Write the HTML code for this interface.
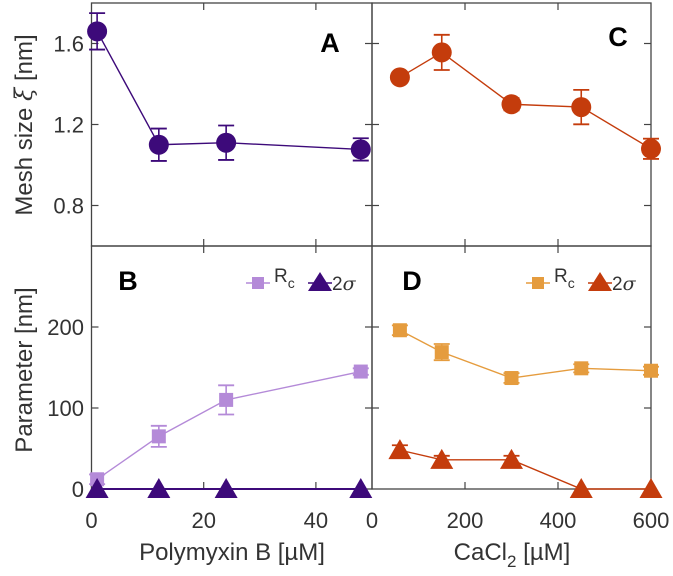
<!DOCTYPE html>
<html><head><meta charset="utf-8">
<style>html,body{margin:0;padding:0;background:#fff}svg{display:block;font-family:"Liberation Sans",sans-serif}</style>
</head><body>
<svg id="chart" width="673" height="576" viewBox="0 0 673 576" xmlns="http://www.w3.org/2000/svg"></svg>
<script>
const pbX=[1,12,24,48];
const aXi=[1.66,1.10,1.11,1.077];
const aErr=[0.09,0.08,0.085,0.055];
const bRc=[12,65,110,145];
const bRcErr=[6,13,18,4];
const bSig=[0,0,0,0];
const caX=[60,150,300,450,600];
const cXi=[1.433,1.556,1.30,1.286,1.08];
const cErr=[0,0.087,0.03,0.085,0.05];
const dRc=[196,169,137,149,146];
const dRcErr=[6,10,6,5,5];
const dSig=[48,36,36,0,0];
const dSigErr=[6,5,5,0,0];
const xTicksL=[0,20,40];
const xTicksR=[0,200,400,600];
const yTicksTop=[0.8,1.2,1.6];
const yTicksBot=[0,100,200];

const NS="http://www.w3.org/2000/svg";
const svg=document.getElementById('chart');
function el(tag,attrs,parent,text){const e=document.createElementNS(NS,tag);for(const k in attrs)e.setAttribute(k,attrs[k]);if(text!==undefined)e.textContent=text;(parent||svg).appendChild(e);return e;}
const L={x0:91.5,x1:372},R={x0:372,x1:651},T={y0:3,y1:246},B={y0:246,y1:489};
const sxL=v=>L.x0+(v-0)/(50-0)*(L.x1-L.x0);
const sxR=v=>R.x0+(v-0)/(600-0)*(R.x1-R.x0);
const syT=v=>T.y1-(v-0.6)/(1.8-0.6)*(T.y1-T.y0);
const syB=v=>B.y1-(v-0)/(300-0)*(B.y1-B.y0);

// frames
function frame(x0,x1,y0,y1,name){const r=el('rect',{x:x0,y:y0,width:x1-x0,height:y1-y0,fill:'none',stroke:'#444','stroke-width':1.3},svg);}
frame(L.x0,L.x1,T.y0,T.y1,'panel-a-frame');frame(R.x0,R.x1,T.y0,T.y1,'panel-c-frame');
frame(L.x0,L.x1,B.y0,B.y1,'panel-b-frame');frame(R.x0,R.x1,B.y0,B.y1,'panel-d-frame');

function tick(x1,y1,x2,y2){const t=el('line',{x1,y1,x2,y2,stroke:'#444','stroke-width':1.2});}
// x ticks
[[xTicksL,sxL,L],[xTicksR,sxR,R]].forEach(([ticks,sx,P])=>{
  ticks.forEach(v=>{const x=sx(v);
    if(x>P.x0+1&&x<P.x1-1){[[T.y0,1],[T.y1,-1],[B.y0,1],[B.y1,-1]].forEach(([y,d])=>tick(x,y,x,y+d*7));}
    const t=el('text',{x:x,y:528,'text-anchor':'middle','font-size':22,fill:'#333'},svg,String(v));
    
  });
});
// y ticks
yTicksTop.forEach(v=>{const y=syT(v);
  [[L.x0,1],[L.x1,-1],[R.x0,1],[R.x1,-1]].forEach(([x,d])=>tick(x,y,x+d*7,y));
  const t=el('text',{x:84,y:y+8,'text-anchor':'end','font-size':22,fill:'#333'},svg,v.toFixed(1));
  
});
yTicksBot.forEach(v=>{const y=syB(v);
  [[L.x0,1],[L.x1,-1],[R.x0,1],[R.x1,-1]].forEach(([x,d])=>{if(v>0)tick(x,y,x+d*7,y);});
  const t=el('text',{x:84,y:y+8,'text-anchor':'end','font-size':22,fill:'#333'},svg,String(v));
  
});

function series(xs,ys,errs,sx,sy,color,marker,size,name,lw){
  const g=el('g',{});
  el('polyline',{points:xs.map((x,i)=>sx(x)+','+sy(ys[i])).join(' '),fill:'none',stroke:color,'stroke-width':lw||1.4},g);
  xs.forEach((x,i)=>{const cx=sx(x),cy=sy(ys[i]);
    if(errs&&errs[i]>0){const a=sy(ys[i]+errs[i]),b=sy(ys[i]-errs[i]);
      el('line',{x1:cx,y1:a,x2:cx,y2:b,stroke:color,'stroke-width':1.6},g);
      el('line',{x1:cx-8,y1:a,x2:cx+8,y2:a,stroke:color,'stroke-width':1.8},g);
      el('line',{x1:cx-8,y1:b,x2:cx+8,y2:b,stroke:color,'stroke-width':1.8},g);}
    let m;
    if(marker==='circle')m=el('circle',{cx,cy,r:size,fill:color},g);
    else if(marker==='square')m=el('rect',{x:cx-size,y:cy-size,width:2*size,height:2*size,fill:color},g);
    else m=el('polygon',{points:`${cx},${cy-size*1.1} ${cx-size*1.15},${cy+size*0.9} ${cx+size*1.15},${cy+size*0.9}`,fill:color},g);
    
  });
}
const PURPLE='#3d0a7a',LPURPLE='#b48ad8',RED='#c43c0c',ORANGE='#e59c3e';
series(pbX,aXi,aErr,sxL,syT,PURPLE,'circle',10,'series-a-mesh');
series(pbX,bRc,bRcErr,sxL,syB,LPURPLE,'square',7,'series-b-rc');
series(pbX,bSig,null,sxL,syB,PURPLE,'tri',10,'series-b-2sigma',2);
series(caX,cXi,cErr,sxR,syT,RED,'circle',10,'series-c-mesh');
series(caX,dRc,dRcErr,sxR,syB,ORANGE,'square',7,'series-d-rc');
series(caX,dSig,dSigErr,sxR,syB,RED,'tri',10,'series-d-2sigma');

// panel letters
[['A',330,52],['B',128,290],['C',618,46],['D',412,290]].forEach(([t,x,y])=>{const e=el('text',{x,y,'text-anchor':'middle','font-size':27,'font-weight':'bold',fill:'#000'},svg,t);});

// legends
function legend(x,c1,c2,name){
  const g=el('g',{});
  const y=283;
  el('line',{x1:x-12,y1:y,x2:x+12,y2:y,stroke:c1,'stroke-width':1.4},g);
  el('rect',{x:x-6,y:y-6,width:12,height:12,fill:c1},g);
  const t=el('text',{x:x+16,y:y-1,'font-size':19,fill:'#333'},g,'R');
  el('tspan',{'font-size':14,dy:6},t,'c');
  const tx=x+62;
  el('line',{x1:tx-12,y1:y,x2:tx+12,y2:y,stroke:c2,'stroke-width':1.4},g);
  el('polygon',{points:`${tx},${y-11} ${tx-12},${y+8} ${tx+12},${y+8}`,fill:c2},g);
  const t2=el('text',{x:tx+12,y:y+7,'font-size':19,fill:'#333'},g,'2');
  el('tspan',{'font-style':'italic','font-family':'"DejaVu Serif",serif'},t2,'σ');
}
legend(258,LPURPLE,PURPLE,'legend-b');
legend(538,ORANGE,RED,'legend-d');

// axis titles
let e;
e=el('text',{x:0,y:0,transform:'translate(32,125) rotate(-90)','text-anchor':'middle','font-size':24,fill:'#333'},svg,'Mesh size ');
el('tspan',{'font-style':'italic','font-family':'"DejaVu Serif",serif'},e,'ξ');el('tspan',{},e,' [nm]');

e=el('text',{x:0,y:0,transform:'translate(32,370) rotate(-90)','text-anchor':'middle','font-size':24,fill:'#333'},svg,'Parameter [nm]');

e=el('text',{x:232,y:560,'text-anchor':'middle','font-size':24,fill:'#333'},svg,'Polymyxin B [µM]');

e=el('text',{x:512,y:560,'text-anchor':'middle','font-size':24,fill:'#333'},svg,'CaCl');
el('tspan',{'font-size':17,dy:7},e,'2');el('tspan',{dy:-7},e,' [µM]');

</script>
</body></html>
